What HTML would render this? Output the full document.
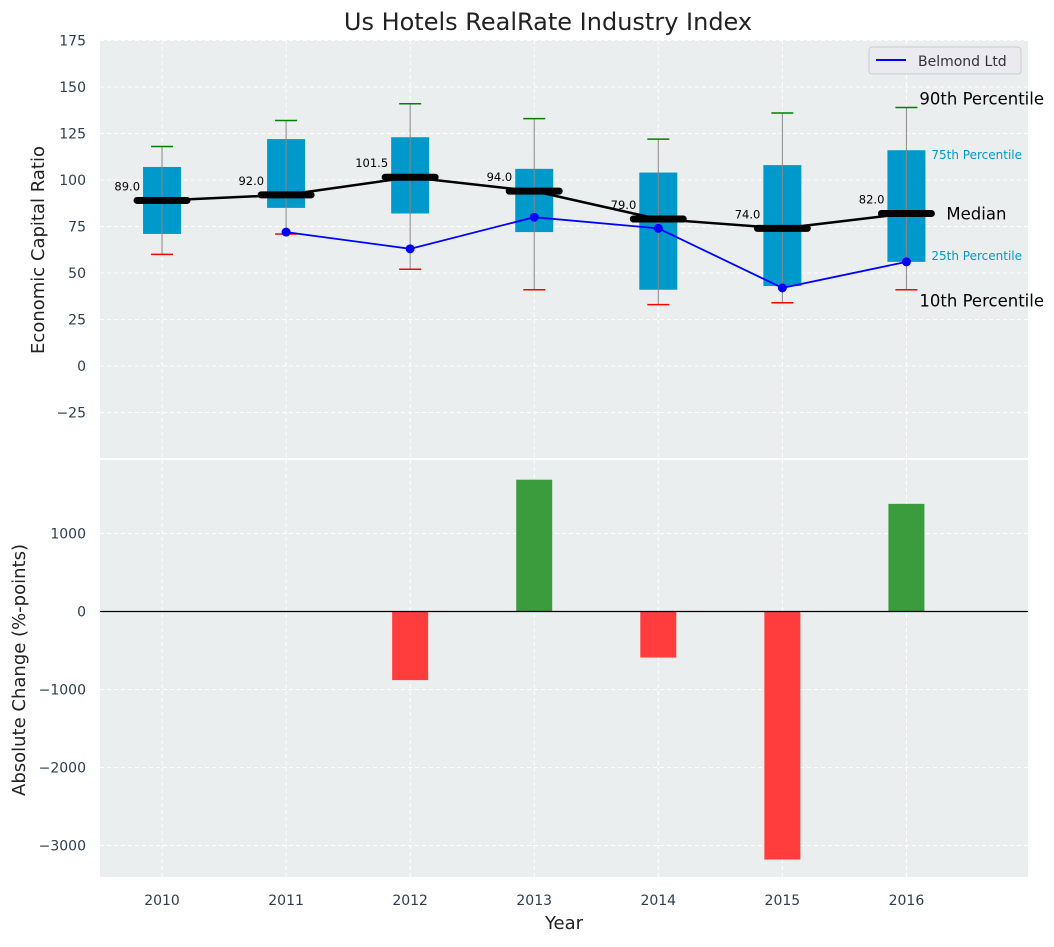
<!DOCTYPE html>
<html><head><meta charset="utf-8"><style>
body{margin:0;background:#fff;font-family:"Liberation Sans","DejaVu Sans",sans-serif}
svg text{font-family:"DejaVu Sans","Liberation Sans",sans-serif}
</style></head><body>
<svg id="c" width="1054" height="942" xmlns="http://www.w3.org/2000/svg"></svg>
<script>
const years=["2010","2011","2012","2013","2014","2015","2016"];
const p10=[60,71,52,41,33,34,41];
const p25=[71,85,82,72,41,43,56];
const med=[89,92,101.5,94,79,74,82];
const p75=[107,122,123,106,104,108,116];
const p90=[118,132,141,133,122,136,139];
const belmond=[null,72,63,80,74,42,56];
const change=[null,null,-880,1690,-590,-3180,1380];
const topTicks=[-25,0,25,50,75,100,125,150,175];
const botTicks=[-3000,-2000,-1000,0,1000];

const svg=document.getElementById('c');const NS='http://www.w3.org/2000/svg';
function el(t,a,txt,p){const e=document.createElementNS(NS,t);for(const k in a)e.setAttribute(k,a[k]);if(txt!=null)e.textContent=txt;(p||svg).appendChild(e);return e;}
const L=100,R=1028;
const X=i=>L+(i+0.5)/7.48*(R-L);
const T0=40,T1=458,Y=v=>366-1.86*v;
const B0=460,B1=877,YB=v=>611.5-v*0.078;

let r=el('rect',{x:L,y:T0,width:R-L,height:T1-T0,fill:'#eaeeee'});
r=el('rect',{x:L,y:B0,width:R-L,height:B1-B0,fill:'#eaeeee'});
years.forEach((y,i)=>{el('line',{x1:X(i),x2:X(i),y1:T0,y2:T1,stroke:'#fff','stroke-dasharray':'4,3'});el('line',{x1:X(i),x2:X(i),y1:B0,y2:B1,stroke:'#fff','stroke-dasharray':'4,3'});
 const t=el('text',{x:X(i),y:905,'text-anchor':'middle','font-size':14,fill:'#2c3e50'},y);});
topTicks.forEach(v=>{el('line',{x1:L,x2:R,y1:Y(v),y2:Y(v),stroke:'#fff','stroke-dasharray':'4,3'});
 const t=el('text',{x:L-14,y:Y(v)+5,'text-anchor':'end','font-size':14,fill:'#2c3e50'},v<0?'\u2212'+(-v):v);});
botTicks.forEach(v=>{el('line',{x1:L,x2:R,y1:YB(v),y2:YB(v),stroke:'#fff','stroke-dasharray':'4,3'});
 const t=el('text',{x:L-14,y:YB(v)+5,'text-anchor':'end','font-size':14,fill:'#2c3e50'},v<0?'\u2212'+(-v):v);});

years.forEach((y,i)=>{const x=X(i),w=38;
 const b=el('rect',{x:x-w/2,y:Y(p75[i]),width:w,height:Y(p25[i])-Y(p75[i]),fill:'#0099cc'});
 el('line',{x1:x,x2:x,y1:Y(p90[i]),y2:Y(p10[i]),stroke:'#888','stroke-width':1});
 el('line',{x1:x-11,x2:x+11,y1:Y(p90[i]),y2:Y(p90[i]),stroke:'green','stroke-width':1.5});
 el('line',{x1:x-11,x2:x+11,y1:Y(p10[i]),y2:Y(p10[i]),stroke:'red','stroke-width':1.5});
});
el('polyline',{points:med.map((v,i)=>X(i)+','+Y(v)).join(' '),fill:'none',stroke:'#000','stroke-width':2.5});
years.forEach((y,i)=>{const m=el('line',{x1:X(i)-25,x2:X(i)+25,y1:Y(med[i]),y2:Y(med[i]),stroke:'#000','stroke-width':7,'stroke-linecap':'round'});
 el('text',{x:X(i)-22,y:Y(med[i])-10,'text-anchor':'end','font-size':11.5,fill:'#000'},med[i].toFixed(1));});
const pts=belmond.map((v,i)=>v==null?null:[X(i),Y(v)]).filter(p=>p);
const bl=el('polyline',{points:pts.map(p=>p.join(',')).join(' '),fill:'none',stroke:'blue','stroke-width':1.8});
pts.forEach(p=>el('circle',{cx:p[0],cy:p[1],r:4.5,fill:'blue'}));
const xl=X(6);
el('text',{x:xl+13,y:Y(p90[6])-3,'font-size':16.5,fill:'#000'},'90th Percentile');
el('text',{x:xl+13,y:Y(p10[6])+17,'font-size':16.5,fill:'#000'},'10th Percentile');
el('text',{x:xl+40,y:Y(med[6])+6,'font-size':16.5,fill:'#000'},'Median');
el('text',{x:xl+25,y:Y(p75[6])+9,'font-size':12,fill:'#0099cc'},'75th Percentile');
el('text',{x:xl+25,y:Y(p25[6])-2,'font-size':12,fill:'#0099cc'},'25th Percentile');
const lg=el('g',{});
el('rect',{x:869,y:47,width:152,height:27,rx:3,fill:'#eaeaf0',stroke:'#ccc'},null,lg);
el('line',{x1:876,x2:906,y1:60,y2:60,stroke:'blue','stroke-width':2},null,lg);
el('text',{x:918,y:66,'font-size':14,fill:'#333'},'Belmond Ltd',lg);
change.forEach((v,i)=>{if(v==null)return;const b=el('rect',{x:X(i)-18,y:Math.min(YB(v),YB(0)),width:36,height:Math.abs(YB(v)-YB(0)),fill:v>=0?'#3a9c3c':'#ff3d3d'});});
el('line',{x1:L,x2:R,y1:YB(0),y2:YB(0),stroke:'#000','stroke-width':1.2});
let t=el('text',{x:548,y:30,'text-anchor':'middle','font-size':24,fill:'#222'},'Us Hotels RealRate Industry Index');
t=el('text',{x:44,y:250,'text-anchor':'middle','font-size':18,fill:'#222',transform:'rotate(-90 44 250)'},'Economic Capital Ratio');
t=el('text',{x:25,y:670,'text-anchor':'middle','font-size':18,fill:'#222',transform:'rotate(-90 25 670)'},'Absolute Change (%-points)');
t=el('text',{x:564,y:929,'text-anchor':'middle','font-size':18,fill:'#222'},'Year');
</script></body></html>
